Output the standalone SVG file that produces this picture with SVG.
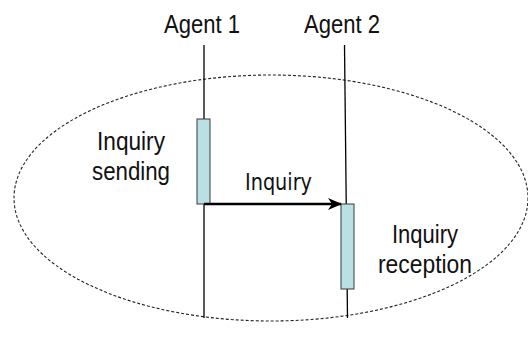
<svg xmlns="http://www.w3.org/2000/svg" width="528" height="345" viewBox="0 0 528 345">
<style>
.t{font-family:"Liberation Sans",Arial,sans-serif;font-size:26px;fill:#111;text-anchor:middle}
.life{stroke:#000;stroke-width:1.3;fill:none}
.act{fill:#b9e0e3;stroke:#3a3a3a;stroke-width:1}
</style>
<defs>
<marker id="ah" viewBox="0 0 14 12" refX="13" refY="6" markerWidth="14" markerHeight="12" markerUnits="userSpaceOnUse" orient="auto">
<path d="M0,0 L14,6 L0,12 L4,6 Z" fill="#000"/>
</marker>
</defs>
<rect width="528" height="345" fill="#fff"/>
<ellipse id="scope" cx="271" cy="198" rx="257" ry="123" fill="none" stroke="#222" stroke-width="1.1" stroke-dasharray="3,2"/>
<g id="agent1">
<text class="t" x="202" y="33" textLength="76" lengthAdjust="spacingAndGlyphs">Agent 1</text>
<line class="life" x1="204" y1="45" x2="204" y2="318"/>
<rect class="act" x="197" y="119" width="13" height="85"/>
</g>
<g id="agent2">
<text class="t" x="342" y="33" textLength="76" lengthAdjust="spacingAndGlyphs">Agent 2</text>
<line class="life" x1="344.5" y1="45" x2="347.5" y2="318"/>
<rect class="act" x="341" y="204" width="13" height="85"/>
</g>
<g id="labels">
<text class="t" x="131" y="150" textLength="68" lengthAdjust="spacingAndGlyphs">Inquiry</text>
<text class="t" x="131" y="180" textLength="78" lengthAdjust="spacingAndGlyphs">sending</text>
<text class="t" x="425" y="243" textLength="66" lengthAdjust="spacingAndGlyphs">Inquiry</text>
<text class="t" x="425" y="273" textLength="94" lengthAdjust="spacingAndGlyphs">reception</text>
</g>
<g id="connectors">
<line x1="204" y1="204" x2="341" y2="204" stroke="#000" stroke-width="2.4" marker-end="url(#ah)"/>
<text class="t" x="278.5" y="190" style="font-family:'DejaVu Sans',sans-serif;font-size:23px" textLength="67" lengthAdjust="spacingAndGlyphs">Inquiry</text>
</g>
</svg>
